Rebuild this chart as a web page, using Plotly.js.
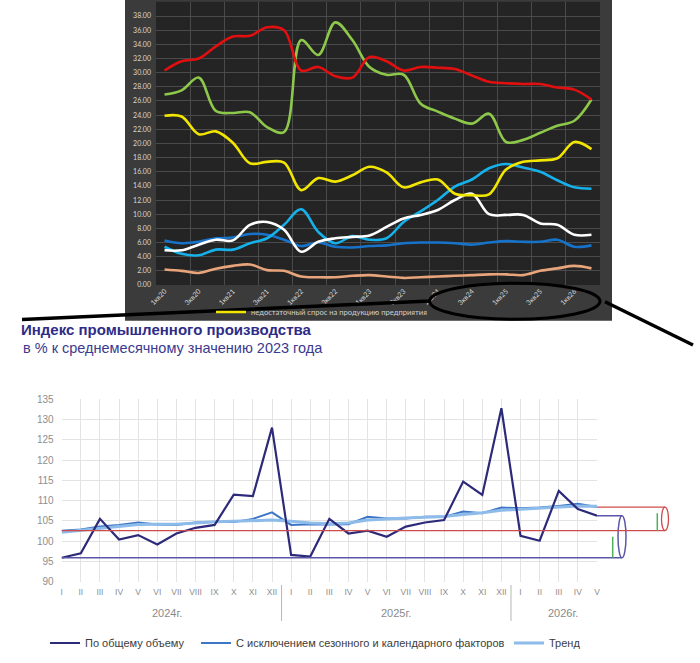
<!DOCTYPE html>
<html>
<head>
<meta charset="utf-8">
<script src="https://cdn.plot.ly/plotly-3.0.1.min.js"></script>
<style>
html,body{margin:0;padding:0;background:#ffffff;}
#chart{width:700px;height:663px;}
</style>
</head>
<body>
<div id="chart"></div>
<script>
// ---------- Top chart (quarterly, %) ----------
const quarterLabels = ['1кв20','2кв20','3кв20','4кв20','1кв21','2кв21','3кв21','4кв21',
  '1кв22','2кв22','3кв22','4кв22','1кв23','2кв23','3кв23','4кв23',
  '1кв24','2кв24','3кв24','4кв24','1кв25','2кв25','3кв25','4кв25','1кв26','2кв26'];
const topLegendName = 'недостаточный спрос на продукцию предприятия';
const redSeries    = [30.3,31.6,32.0,33.7,35.1,35.2,36.4,36.0,30.3,30.8,29.5,29.3,32.2,31.6,30.3,30.8,30.7,30.5,29.6,28.7,28.5,28.4,28.4,27.9,27.6,26.2];
const greenSeries  = [26.9,27.5,29.3,24.6,24.3,24.4,22.3,21.6,34.6,32.5,37.1,34.6,30.8,29.7,29.7,25.6,24.5,23.5,22.8,24.2,20.2,20.5,21.5,22.5,23.2,26.2];
const yellowSeries = [23.9,23.8,21.3,21.7,20.1,17.2,17.4,17.3,13.4,15.1,14.6,15.5,16.7,15.9,13.8,14.5,14.9,12.9,12.7,12.8,16.3,17.4,17.6,17.9,20.2,19.2];
const whiteSeries  = [4.9,4.9,5.7,6.4,6.3,8.5,8.9,7.8,4.7,6.1,6.6,6.8,7.0,8.2,9.4,9.9,10.6,12.0,12.9,10.0,9.9,9.9,8.7,8.5,7.1,7.1];
const lightBlueSeries = [5.4,4.4,4.2,5.0,5.0,5.9,6.6,8.5,10.7,7.5,5.9,6.9,6.4,6.6,8.9,10.4,12.0,13.9,14.9,16.5,17.1,16.6,16.0,14.8,13.8,13.6];
const darkBlueSeries  = [6.3,5.9,6.1,6.6,6.7,7.2,7.1,6.4,5.5,6.0,5.4,5.3,5.5,5.6,5.9,6.0,6.0,5.9,5.7,6.0,6.2,6.1,6.1,6.4,5.4,5.6];
const orangeSeries    = [2.2,2.0,1.7,2.3,2.7,2.9,2.1,2.0,1.2,1.1,1.1,1.3,1.4,1.2,1.0,1.1,1.2,1.3,1.4,1.5,1.5,1.4,2.0,2.35,2.7,2.35];

// ---------- Bottom chart (monthly index) ----------
const monthLabels = ['I','II','III','IV','V','VI','VII','VIII','IX','X','XI','XII',
  'I','II','III','IV','V','VI','VII','VIII','IX','X','XI','XII',
  'I','II','III','IV','V'];
const yearLabels = ['2024г.','2025г.','2026г.'];
const yearCenters = [5.5, 17.5, 26.2];
const yearSeparators = [11.5, 23.5];
const nameTotal = 'По общему объему';
const nameSA = 'С исключением сезонного и календарного факторов';
const nameTrend = 'Тренд';
const totalSeries = [95.9,97.0,105.5,100.4,101.5,99.2,101.9,103.3,104.0,111.5,111.1,128.0,
  96.6,96.2,105.5,101.9,102.6,101.1,103.6,104.6,105.2,114.7,111.4,132.8,
  101.3,100.1,112.4,107.9,106.3];
const saSeries = [102.6,102.9,103.6,104.0,104.6,104.1,104.0,104.6,104.7,104.7,105.5,107.1,
  104.0,104.2,104.1,104.2,106.0,105.6,105.6,106.0,106.0,107.3,106.9,108.3,
  108.1,108.3,108.7,109.2,108.4];
const trendSeries = [102.2,102.7,103.2,103.7,104.1,104.2,104.2,104.5,104.8,104.9,105.1,105.2,
  104.9,104.5,104.3,104.5,105.2,105.5,105.7,105.9,106.1,106.6,107.0,107.6,
  107.9,108.1,108.4,108.7,108.6];
const greenMarkTops = [101.1, 106.9];

const W = 700, H = 663;
const px = v => v / W;
const py = v => 1 - v / H;

const qIdx = quarterLabels.map((_, i) => i);
const mIdx = monthLabels.map((_, i) => i);

function topTrace(y, color, name, legendOn) {
  return {
    x: qIdx, y: y, type: 'scatter', mode: 'lines', name: name,
    xaxis: 'x', yaxis: 'y',
    line: {color: color, width: 2.6, shape: 'spline', smoothing: 1},
    showlegend: !!legendOn, legend: 'legend2', hoverinfo: 'skip'
  };
}

const traces = [
  {x: [], y: [], xaxis: 'x3', yaxis: 'y', showlegend: false, hoverinfo: 'skip', type: 'scatter'},
  topTrace(orangeSeries, '#e8a47a', 'ряд 7'),
  topTrace(darkBlueSeries, '#1773c9', 'ряд 6'),
  topTrace(lightBlueSeries, '#16b1ea', 'ряд 5'),
  topTrace(whiteSeries, '#ffffff', 'ряд 4'),
  topTrace(yellowSeries, '#f2e600', topLegendName, true),
  topTrace(greenSeries, '#8dc84b', 'ряд 2'),
  topTrace(redSeries, '#e10f0f', 'ряд 1'),
  {x: mIdx, y: saSeries, type: 'scatter', mode: 'lines', name: nameSA, xaxis: 'x2', yaxis: 'y2',
   line: {color: '#3d76c6', width: 2}, legend: 'legend3', showlegend: true, hoverinfo: 'skip'},
  {x: mIdx, y: trendSeries, type: 'scatter', mode: 'lines', name: nameTrend, xaxis: 'x2', yaxis: 'y2',
   line: {color: '#8dbbea', width: 3}, legend: 'legend4', showlegend: true, hoverinfo: 'skip'},
  {x: mIdx, y: totalSeries, type: 'scatter', mode: 'lines', name: nameTotal, xaxis: 'x2', yaxis: 'y2',
   line: {color: '#2d2a79', width: 2.2}, legend: 'legend', showlegend: true, hoverinfo: 'skip'}
];

const last = totalSeries.length - 1;
const purpleCol = '#5a56a8', redCol = '#cf4b4b', greenCol = '#4fb05a';
const shapes = [
  // dark panel and plot area of top chart
  {type: 'rect', xref: 'paper', yref: 'paper', x0: px(125), x1: px(612), y0: py(320.7), y1: 1,
   fillcolor: '#3b3b3b', line: {width: 0}, layer: 'below'},
  {type: 'rect', xref: 'paper', yref: 'paper', x0: px(156), x1: px(600), y0: py(285), y1: py(1.7),
   fillcolor: '#242424', line: {width: 0}, layer: 'below'},
  // hand-drawn black marks
  {type: 'line', xref: 'paper', yref: 'paper', x0: px(22), y0: py(319.5), x1: px(430), y1: py(301),
   line: {color: '#000000', width: 3.5}},
  {type: 'circle', xref: 'paper', yref: 'paper', x0: px(429.5), x1: px(600), y0: py(319.3), y1: py(283.3),
   line: {color: '#000000', width: 3}},
  {type: 'line', xref: 'paper', yref: 'paper', x0: px(605), y0: py(301.7), x1: px(693), y1: py(345),
   line: {color: '#000000', width: 3.5}},
  // purple cylinder (total)
  {type: 'line', xref: 'paper', yref: 'y2', x0: px(61.7), x1: px(622), y0: totalSeries[0], y1: totalSeries[0],
   line: {color: purpleCol, width: 1.5}},
  {type: 'line', xref: 'paper', yref: 'y2', x0: px(597), x1: px(622), y0: totalSeries[last], y1: totalSeries[last],
   line: {color: purpleCol, width: 1.5}},
  {type: 'circle', xref: 'paper', yref: 'y2', x0: px(618), x1: px(626), y0: totalSeries[0], y1: totalSeries[last],
   line: {color: purpleCol, width: 1.5}},
  // red cylinder (seasonally adjusted)
  {type: 'line', xref: 'paper', yref: 'y2', x0: px(61.7), x1: px(665), y0: saSeries[0], y1: saSeries[0],
   line: {color: redCol, width: 1.3}},
  {type: 'line', xref: 'paper', yref: 'y2', x0: px(597), x1: px(665), y0: saSeries[last], y1: saSeries[last],
   line: {color: redCol, width: 1.3}},
  {type: 'circle', xref: 'paper', yref: 'y2', x0: px(661.5), x1: px(668.5), y0: saSeries[0], y1: saSeries[last],
   line: {color: redCol, width: 1.3}},
  // green marks
  {type: 'line', xref: 'paper', yref: 'y2', x0: px(612.7), x1: px(612.7), y0: totalSeries[0], y1: greenMarkTops[0],
   line: {color: greenCol, width: 1.5}},
  {type: 'line', xref: 'paper', yref: 'y2', x0: px(657.3), x1: px(657.3), y0: saSeries[0], y1: greenMarkTops[1],
   line: {color: greenCol, width: 1.5}}
];
yearSeparators.forEach(s => shapes.push({
  type: 'line', xref: 'x2', yref: 'paper', x0: s, x1: s, y0: py(585), y1: py(621),
  line: {color: '#b5b5b5', width: 1}
}));

const annotations = [
  {text: 'в % к среднемесячному значению 2023 года', xref: 'paper', yref: 'paper',
   x: px(21), y: py(348), xanchor: 'left', yanchor: 'middle', showarrow: false,
   font: {family: 'Liberation Sans, Arial, sans-serif', size: 14.5, color: '#3a3a8e'}}
];
yearLabels.forEach((t, i) => annotations.push({
  text: t, xref: 'x2', yref: 'paper', x: yearCenters[i], y: py(613), xanchor: 'center', yanchor: 'middle',
  showarrow: false, font: {family: 'Liberation Sans, Arial, sans-serif', size: 11, color: '#8a8a8a'}
}));

const legBase = {orientation: 'h', bgcolor: 'rgba(0,0,0,0)', borderwidth: 0, xanchor: 'left', yanchor: 'middle',
  font: {family: 'Liberation Sans, Arial, sans-serif', size: 11, color: '#3c3c3c'}, y: py(643), itemwidth: 30,
  visible: true};

const layout = {
  width: W, height: H,
  margin: {l: 0, r: 0, t: 0, b: 0},
  paper_bgcolor: '#ffffff', plot_bgcolor: 'rgba(0,0,0,0)',
  hovermode: false,
  showlegend: true,
  title: {text: 'Индекс промышленного производства', xref: 'paper', yref: 'paper',
    x: px(21), xanchor: 'left', y: py(330), yanchor: 'middle',
    font: {family: 'Liberation Sans, Arial, sans-serif', size: 15, weight: 700, color: '#2e2c86'}},
  xaxis: {domain: [px(156), px(600)], anchor: 'y', range: [-0.5, 25.5], showgrid: false, zeroline: false,
    tickmode: 'array', tickvals: qIdx.filter(i => i % 2 === 0),
    ticktext: quarterLabels.filter((_, i) => i % 2 === 0),
    tickangle: -45, ticks: '', tickfont: {family: 'Lato, sans-serif', size: 7, color: '#d6d6d6'}},
  xaxis3: {overlaying: 'x', anchor: 'y', range: [-0.5, 25.5], tickmode: 'linear', tick0: -0.5, dtick: 2,
    showgrid: true, gridcolor: '#4a4a4a', gridwidth: 1, showticklabels: false, zeroline: false, ticks: ''},
  yaxis: {domain: [py(285), py(1.7)], anchor: 'x', range: [0, 40.02], dtick: 2, tickformat: '.2f',
    gridcolor: '#4a4a4a', zeroline: false, ticks: '', ticklabelstandoff: 4,
    tickfont: {family: 'Lato, sans-serif', size: 7, color: '#d6d6d6'}},
  xaxis2: {domain: [px(61.7), px(597)], anchor: 'y2', range: [0, 28], tickmode: 'array', tickvals: mIdx,
    ticktext: monthLabels, showgrid: true, gridcolor: '#e3e3e3', zeroline: false, ticks: '',
    ticklabelstandoff: 4,
    tickfont: {family: 'Liberation Sans, Arial, sans-serif', size: 8.5, color: '#8e8e8e'}},
  yaxis2: {domain: [py(581.7), py(399.3)], anchor: 'x2', range: [90, 135], dtick: 5,
    showgrid: true, gridcolor: '#e3e3e3', zeroline: false, ticks: '', ticklabelstandoff: 7,
    tickfont: {family: 'Liberation Sans, Arial, sans-serif', size: 10, color: '#8e8e8e'}},
  legend: Object.assign({}, legBase, {x: px(45)}),
  legend3: Object.assign({}, legBase, {x: px(196)}),
  legend4: Object.assign({}, legBase, {x: px(509)}),
  legend2: {orientation: 'h', bgcolor: 'rgba(0,0,0,0)', xanchor: 'left', yanchor: 'middle',
    x: px(211), y: py(312), itemwidth: 30, visible: true,
    font: {family: 'Lato, sans-serif', size: 7.6, color: '#cfcfcf'}},
  shapes: shapes,
  annotations: annotations
};

Plotly.newPlot('chart', traces, layout, {staticPlot: true, displayModeBar: false});
</script>
</body>
</html>
